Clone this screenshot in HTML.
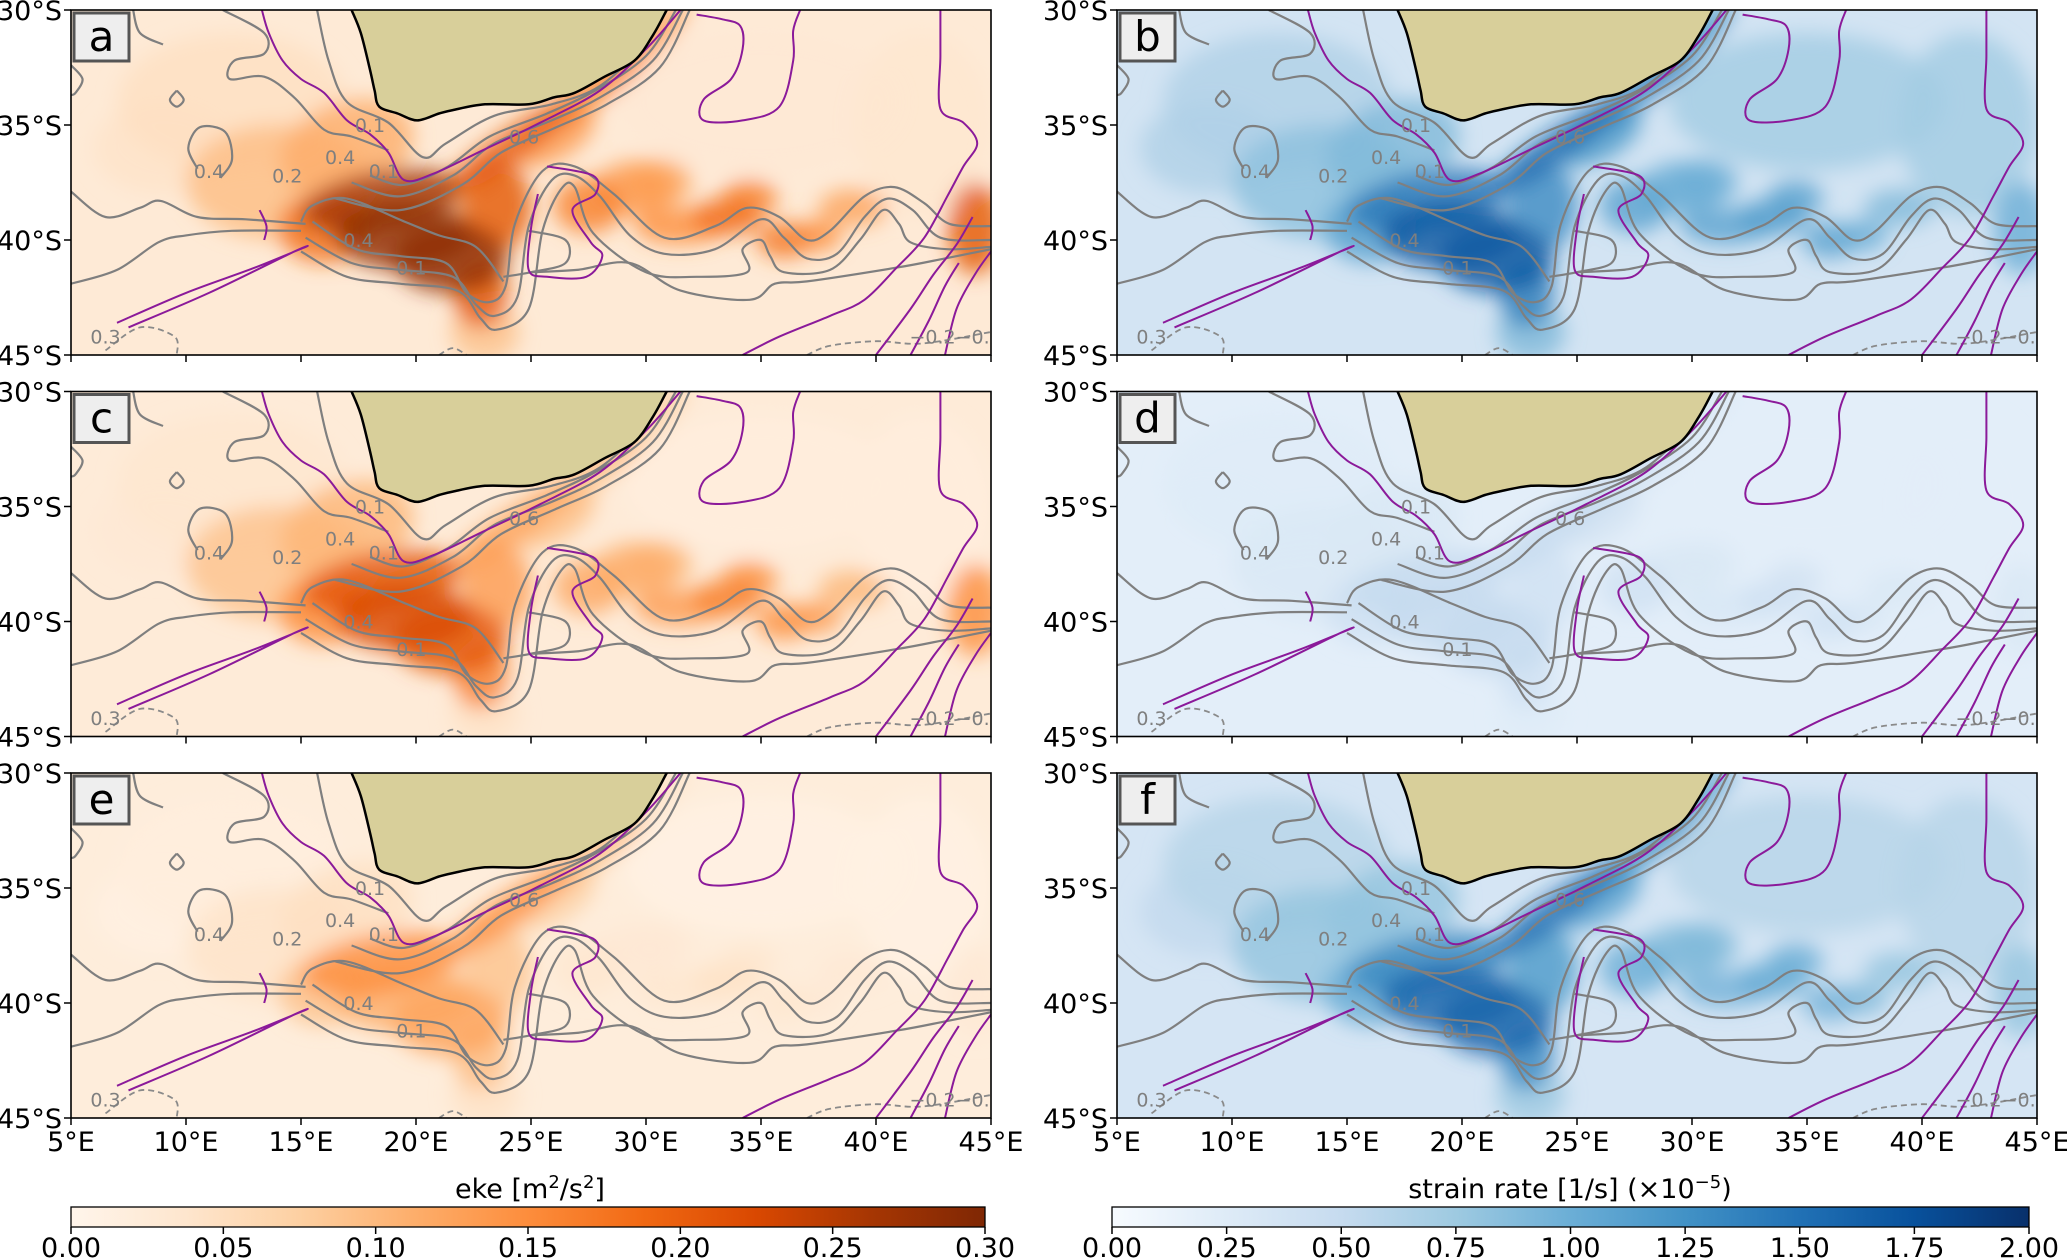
<!DOCTYPE html>
<html><head><meta charset="utf-8">
<style>
html,body{margin:0;padding:0;background:#fff;}
svg{display:block;font-family:"DejaVu Sans","Liberation Sans",sans-serif;}
</style></head>
<body>
<svg id="fig" width="2067" height="1258" viewBox="0 0 2067 1258" xmlns="http://www.w3.org/2000/svg">
<defs>
<filter id="blur" x="-10%" y="-10%" width="120%" height="120%"><feGaussianBlur stdDeviation="10"/></filter>
<linearGradient id="gradOr" x1="0" x2="1" y1="0" y2="0">
<stop offset="0" stop-color="#fff5eb"/><stop offset="0.125" stop-color="#fee6ce"/><stop offset="0.25" stop-color="#fdd0a2"/><stop offset="0.375" stop-color="#fdae6b"/><stop offset="0.5" stop-color="#fd8d3c"/><stop offset="0.625" stop-color="#f16913"/><stop offset="0.75" stop-color="#d94801"/><stop offset="0.875" stop-color="#a63603"/><stop offset="1" stop-color="#7f2704"/>
</linearGradient>
<linearGradient id="gradBl" x1="0" x2="1" y1="0" y2="0">
<stop offset="0" stop-color="#f7fbff"/><stop offset="0.125" stop-color="#deebf7"/><stop offset="0.25" stop-color="#c6dbef"/><stop offset="0.375" stop-color="#9ecae1"/><stop offset="0.5" stop-color="#6baed6"/><stop offset="0.625" stop-color="#4292c6"/><stop offset="0.75" stop-color="#2171b5"/><stop offset="0.875" stop-color="#08519c"/><stop offset="1" stop-color="#08306b"/>
</linearGradient>
</defs>
</svg>
<script>
// ---- data ----
const panelLetters = ['a','b','c','d','e','f'];
const lonTicks = [5,10,15,20,25,30,35,40,45];
const latTicks = [30,35,40,45];
const blobLon = [12,14,17,18.5,16,19.5,21.5,22.8,23.5,24,27.5,30,27.5,29.5,31.5,33.5,36,39,44.3,23,9,35,42,26,30.5,34.5,37.5];
const blobLat = [34,37.5,36,38.3,39.5,39.8,40.8,42.3,38.5,36,33.7,31.5,38.5,37.8,39.4,39,40,38.6,39.5,44,36,34,35,35.5,37.5,38.2,39.8];
const blobRx  = [5,4,3,3.5,2,3,2.5,1.2,1.5,3.5,3,2.5,1.5,1.8,2,1.5,1.2,1.5,1.2,1.5,3,6,3,2,1.5,1.2,1];
const blobRy  = [3,2.5,2,1.3,1.5,1.5,1.5,1.5,2,0.7,0.6,0.6,1.2,1.2,0.8,0.8,0.8,0.8,2,1.3,2,3,4,1,1,0.8,0.7];
const blobAng = [0,0,-20,-10,0,0,0,0,0,-35,-35,-45,0,0,0,0,0,0,0,0,0,0,0,-30,0,0,0];
const valsA = [.16,.32,.38,.88,.6,.95,.95,.7,.7,.68,.55,.45,.55,.45,.5,.62,.58,.42,.7,.3,.14,.1,.12,.45,.4,.55,.5];
const valsC = [.12,.3,.35,.7,.5,.75,.7,.55,.45,.42,.32,.25,.4,.38,.45,.55,.5,.35,.5,.15,.1,.06,.06,.32,.35,.5,.45];
const valsE = [.06,.14,.16,.5,.3,.38,.42,.32,.3,.5,.32,.15,.12,.1,.12,.15,.12,.1,.1,.15,.04,.03,.03,.25,.1,.12,.1];
const valsB = [.32,.42,.45,.72,.55,.85,.85,.7,.65,.78,.68,.62,.55,.5,.55,.58,.55,.45,.5,.45,.32,.36,.36,.6,.5,.55,.5];
const valsD = [.12,.15,.15,.25,.2,.25,.25,.2,.2,.25,.2,.15,.2,.15,.16,.2,.2,.15,.15,.12,.1,.1,.1,.18,.15,.18,.16];
const valsF = [.3,.4,.4,.66,.5,.8,.8,.65,.6,.76,.62,.55,.5,.45,.48,.52,.48,.4,.4,.38,.26,.3,.3,.55,.45,.5,.45];
const bgVals = [.09,.18,.08,.1,.07,.17];
const orTicks = ['0.00','0.05','0.10','0.15','0.20','0.25','0.30'];
const blTicks = ['0.00','0.25','0.50','0.75','1.00','1.25','1.50','1.75','2.00'];
const land = [[17.2,30],[17.6,31],[18,32.6],[18.2,33.5],[18.4,34.2],[19.2,34.5],[20.05,34.8],[21,34.5],[21.6,34.35],[23,34.1],[24.9,34.1],[26,33.8],[26.9,33.6],[28.2,32.9],[29.5,32.2],[30.3,31.1],[30.9,30]];
const purpleLines = [
 [[13.3,30],[13.6,31],[14.2,32.2],[15,33],[16,33.6],[17,34.8],[18,35.4],[18.8,36.2],[19.5,37.4],[20.8,37.1],[22.9,36.1],[25.4,34.9],[28,33.5],[30,31.7],[31.5,30]],
 [[32.2,30.2],[33.3,30.4],[34.1,30.7],[34.2,31.7],[33.7,33],[32.5,33.9],[32.5,34.8],[34.2,34.8],[35.8,34.2],[36.4,32.2],[36.4,30.9],[36.7,30]],
 [[42.8,30],[42.8,32],[42.8,34.3],[43.8,34.9],[44.4,35.8],[43.8,36.8],[43.1,38.1],[42.1,39.9],[40.9,41.2],[39.5,42.6],[38,43.3],[35.8,44.2],[34.2,45]],
 [[25.7,36.8],[27.7,37.2],[27.8,38],[26.8,38.7],[27.6,40.1],[28.1,40.7],[27.4,41.6],[25.7,41.6],[24.9,41.3],[25,39.5],[25.3,38]],
 [[7,43.6],[10,42.3],[13,41.2],[15.2,40.3],[14.5,40.6],[11,42.3],[7.5,43.8]],
 [[13.2,38.7],[13.5,39.4],[13.4,40]],
 [[40,45],[41.5,43],[42.5,41.5],[43.5,40.2],[44.2,39]],
 [[43,45],[43.5,43],[44.3,41.5],[45,40.5]],
 [[41.5,45],[42.3,43.5],[43,42],[43.6,41]]
];
const greyLines = [
 [[15.2,39.9],[17.2,41],[19.3,41.3],[21.6,41.6],[22.6,42.8],[23.4,43.3],[24.4,42.5],[24.9,39.4],[25.9,37.4],[26.9,37.2],[28,38.1],[29.3,39.8],[30.8,40.6],[33,40.4],[35,39.1],[36,39.9],[37,40.8],[38.3,40.6],[39.5,39],[40.5,38.2],[41.6,38.7],[42.8,39.9],[45,40]],
 [[15.5,39.2],[17.4,40.4],[19.3,40.7],[21.3,41],[22.2,42.3],[23.2,42.7],[23.9,42],[24.3,39.3],[25.5,37],[26.9,36.8],[28.6,38],[30.8,39.9],[33,39.4],[34.4,38.6],[35.8,39],[37,40],[38,39.6],[39.5,38.1],[40.8,37.7],[42.1,38.4],[43.2,39.3],[45,39.4]],
 [[15,40.5],[17,41.6],[19.3,41.9],[21.8,42.2],[22.8,43.4],[23.5,43.9],[24.9,43],[25.5,39.6],[26.3,37.8],[26.9,37.7],[27.7,39.7],[30,41.4],[32.2,41.6],[34.4,41.4],[34.2,40.4],[35,40],[35.4,40.7],[36,41.4],[38,41.3],[39.3,40],[40.3,38.7],[41,39.3],[41.5,40.1],[43.1,40.4],[45,40.3]],
 [[17.2,37.5],[19.3,38.1],[21.6,37.2],[23.4,35.8],[25.9,34.8],[28,33.8],[30.3,32.2],[31.6,30]],
 [[18,37.2],[19.5,37.6],[21.4,36.8],[23.2,35.5],[25.7,34.5],[27.8,33.5],[30,32],[31.3,30]],
 [[16.5,38.2],[19.3,38.7],[22,37.6],[23.7,36.2],[26.1,35.1],[28.3,34.1],[30.6,32.5],[31.9,30]],
 [[15,39.2],[15.5,38.5],[17,38.2],[19.5,39.2],[21,39.8],[22.6,40.3],[23.8,41.8]],
 [[15.7,30],[16.2,32.2],[17,34],[18.8,34.9],[20.3,36.4],[21.3,35.8],[23.4,34.6],[25.9,34.1],[28,33.3],[30,31.4],[30.6,30]],
 [[11.6,30],[13.4,31],[13.4,31.9],[12.1,32.2],[11.9,33],[13.4,32.9],[14.7,33.8],[16,35.2],[17.2,35.5],[18.8,36.1]],
 [[10.5,36.9],[10.1,36],[10.6,35.1],[11.7,35.3],[12,36.5],[11.5,37.3]],
 [[5,37.9],[6.5,39],[8,38.6],[8.9,38.3],[10.5,39],[12.6,39.1],[15.2,39.3]],
 [[5,41.9],[7,41.3],[8.8,40.1],[10,39.8],[12,39.6],[15,39.6]],
 [[24.9,39.6],[26.5,40],[26.5,41],[25,41.4],[23.8,41.6]],
 [[25,41.4],[27,41.3],[29.3,41],[31.5,42.2],[34.5,42.6],[35.6,41.9],[37,41.8],[40.9,41.2],[43,40.8],[45,40.4]],
 [[7.7,30],[8,31],[9,31.5]],
 [[5,32.4],[5.5,33],[5.2,33.6],[5,33.7]],
 [[9.6,33.5],[9.9,33.9],[9.6,34.2],[9.3,33.9],[9.6,33.5]]
];
const dashedLines = [
 [[6.5,44.8],[8,43.8],[9.5,44.2],[9.6,45]],
 [[37,45],[38,44.6],[40,44.4],[42,44.5],[45,44]],
 [[21,45],[21.6,44.7],[22.2,45]]
];
const contourLabels = [[11,37.3,'0.4'],[14.4,37.5,'0.2'],[16.7,36.7,'0.4'],[18.6,37.3,'0.1'],[18,35.3,'0.1'],[17.5,40.3,'0.4'],[19.8,41.5,'0.1'],[24.7,35.8,'0.6'],[6.5,44.5,'0.3'],[43.2,44.5,'−0.2−0.']];

// ---- helpers ----
const NS='http://www.w3.org/2000/svg';
const svg=document.getElementById('fig');
const W=920,H=345,DEG=23;
const colX=[71,1117], rowY=[10,391.5,773];
const orStops=['#fff5eb','#fee6ce','#fdd0a2','#fdae6b','#fd8d3c','#f16913','#d94801','#a63603','#7f2704'];
const blStops=['#f7fbff','#deebf7','#c6dbef','#9ecae1','#6baed6','#4292c6','#2171b5','#08519c','#08306b'];
function hex2rgb(h){return [1,3,5].map(i=>parseInt(h.substr(i,2),16));}
function cmap(stops,v){v=Math.max(0,Math.min(1,v));const p=v*(stops.length-1);const i=Math.min(stops.length-2,Math.floor(p));const t=p-i;const a=hex2rgb(stops[i]),b=hex2rgb(stops[i+1]);return 'rgb('+a.map((x,k)=>Math.round(x+(b[k]-x)*t)).join(',')+')';}
function mk(tag,attrs,parent){const e=document.createElementNS(NS,tag);for(const k in attrs)e.setAttribute(k,attrs[k]);(parent||svg).appendChild(e);return e;}
function smoothPath(pts,px,py,closed){
 const P=pts.map(p=>[px(p[0]),py(p[1])]);
 let d='M'+P[0][0].toFixed(1)+','+P[0][1].toFixed(1);
 for(let i=0;i<P.length-1;i++){
  const p0=P[Math.max(0,i-1)],p1=P[i],p2=P[i+1],p3=P[Math.min(P.length-1,i+2)];
  const c1=[p1[0]+(p2[0]-p0[0])/6,p1[1]+(p2[1]-p0[1])/6];
  const c2=[p2[0]-(p3[0]-p1[0])/6,p2[1]-(p3[1]-p1[1])/6];
  d+=' C'+c1[0].toFixed(1)+','+c1[1].toFixed(1)+' '+c2[0].toFixed(1)+','+c2[1].toFixed(1)+' '+p2[0].toFixed(1)+','+p2[1].toFixed(1);
 }
 return d+(closed?' Z':'');
}
const panelVals=[valsA,valsB,valsC,valsD,valsE,valsF];

for(let p=0;p<6;p++){
 const col=p%2,row=Math.floor(p/2);
 const x0=colX[col],y0=rowY[row];
 const stops=col===0?orStops:blStops;
 const px=lon=>x0+(lon-5)*DEG, py=lat=>y0+(lat-30)*DEG;
 const g=mk('g',{});
 
 
 const cp=mk('clipPath',{id:'clip'+p},svg.querySelector('defs'));
 mk('rect',{x:x0,y:y0,width:W,height:H},cp);
 const inner=mk('g',{'clip-path':'url(#clip'+p+')'},g);
 const bg=mk('rect',{x:x0,y:y0,width:W,height:H,fill:cmap(stops,bgVals[p])},inner);
 
 
 const hg=mk('g',{filter:'url(#blur)'},inner);
 
 
 const vals=panelVals[p];
 const order=vals.map((v,i)=>i).sort((a,b)=>vals[a]-vals[b]);
 order.forEach(i=>{
  const cx=px(blobLon[i]),cy=py(blobLat[i]);
  const el=mk('ellipse',{cx:cx,cy:cy,rx:blobRx[i]*DEG,ry:blobRy[i]*DEG,fill:cmap(stops,vals[i]),'fill-opacity':0.8,transform:'rotate('+blobAng[i]+' '+cx+' '+cy+')'},hg);
  
  
 });
 greyLines.forEach(l=>{
  const e=mk('path',{d:smoothPath(l,px,py,false),fill:'none',stroke:'#7f7f7f','stroke-width':2.2},inner);
  
  
 });
 dashedLines.forEach(l=>{
  const e=mk('path',{d:smoothPath(l,px,py,false),fill:'none',stroke:'#8a8a8a','stroke-width':1.8,'stroke-dasharray':'6,4'},inner);
  
  
 });
 purpleLines.forEach(l=>{
  const e=mk('path',{d:smoothPath(l,px,py,false),fill:'none',stroke:'#8b1a9a','stroke-width':2},inner);
  
  
 });
 const lp=mk('path',{d:smoothPath(land,px,py,false)+' L'+px(31.5)+','+py(29.5)+' L'+px(17)+','+py(29.5)+' Z',fill:'#d8cf9a',stroke:'#000','stroke-width':2.5},inner);
 
 
 contourLabels.forEach(c=>{
  const t=mk('text',{x:px(c[0]),y:py(c[1]),fill:'#7f7f7f','font-size':19,'text-anchor':'middle'},inner);
  t.textContent=c[2];
  
  
 });
 const fr=mk('rect',{x:x0,y:y0,width:W,height:H,fill:'none',stroke:'#000','stroke-width':1.6},g);
 
 
 const lb=mk('rect',{x:x0+3,y:y0+3,width:55,height:48,fill:'#eeeeee',stroke:'#555','stroke-width':3},g);
 
 
 const lt=mk('text',{x:x0+30.5,y:y0+41,'font-size':42,'text-anchor':'middle',fill:'#000'},g);
 lt.textContent=panelLetters[p];
 
 
 latTicks.forEach(lat=>{
  mk('line',{x1:x0-7,x2:x0,y1:py(lat),y2:py(lat),stroke:'#000','stroke-width':1.5},g);
  const t=mk('text',{x:x0-9,y:py(lat)+10,'font-size':27,'text-anchor':'end',fill:'#000'},g);
  t.textContent=lat+'°S';
  
  
 });
 lonTicks.forEach(lon=>{
  mk('line',{x1:px(lon),x2:px(lon),y1:y0+H,y2:y0+H+7,stroke:'#000','stroke-width':1.5},g);
  if(row===2){
   const t=mk('text',{x:px(lon),y:y0+H+33,'font-size':27,'text-anchor':'middle',fill:'#000'},g);
   t.textContent=lon+'°E';
   
   
  }
 });
}
const cbs=[{x:71,w:914,grad:'gradOr',ticks:orTicks,name:'eke-colorbar'},{x:1112,w:917,grad:'gradBl',ticks:blTicks,name:'strain-colorbar'}];
cbs.forEach(cb=>{
 const g=mk('g',{});
 
 
 mk('rect',{x:cb.x,y:1207,width:cb.w,height:20,fill:'url(#'+cb.grad+')',stroke:'#000','stroke-width':1.3},g);
 cb.ticks.forEach((lab,i)=>{
  const x=cb.x+cb.w*i/(cb.ticks.length-1);
  mk('line',{x1:x,x2:x,y1:1227,y2:1234,stroke:'#000','stroke-width':1.5},g);
  const t=mk('text',{x:x,y:1257,'font-size':27,'text-anchor':'middle',fill:'#000'},g);
  t.textContent=lab;
  
  
 });
});
</script>
<div style="position:absolute;left:0;top:0;width:2067px;height:1258px;pointer-events:none">
<div style="position:absolute;left:330px;top:1172px;width:400px;text-align:center;font:27px 'DejaVu Sans','Liberation Sans',sans-serif;">eke [m<sup style="font-size:18px">2</sup>/s<sup style="font-size:18px">2</sup>]</div>
<div style="position:absolute;left:1320px;top:1172px;width:500px;text-align:center;font:27px 'DejaVu Sans','Liberation Sans',sans-serif;">strain rate [1/s] (×10<sup style="font-size:18px">−5</sup>)</div>
</div>
</body></html>
